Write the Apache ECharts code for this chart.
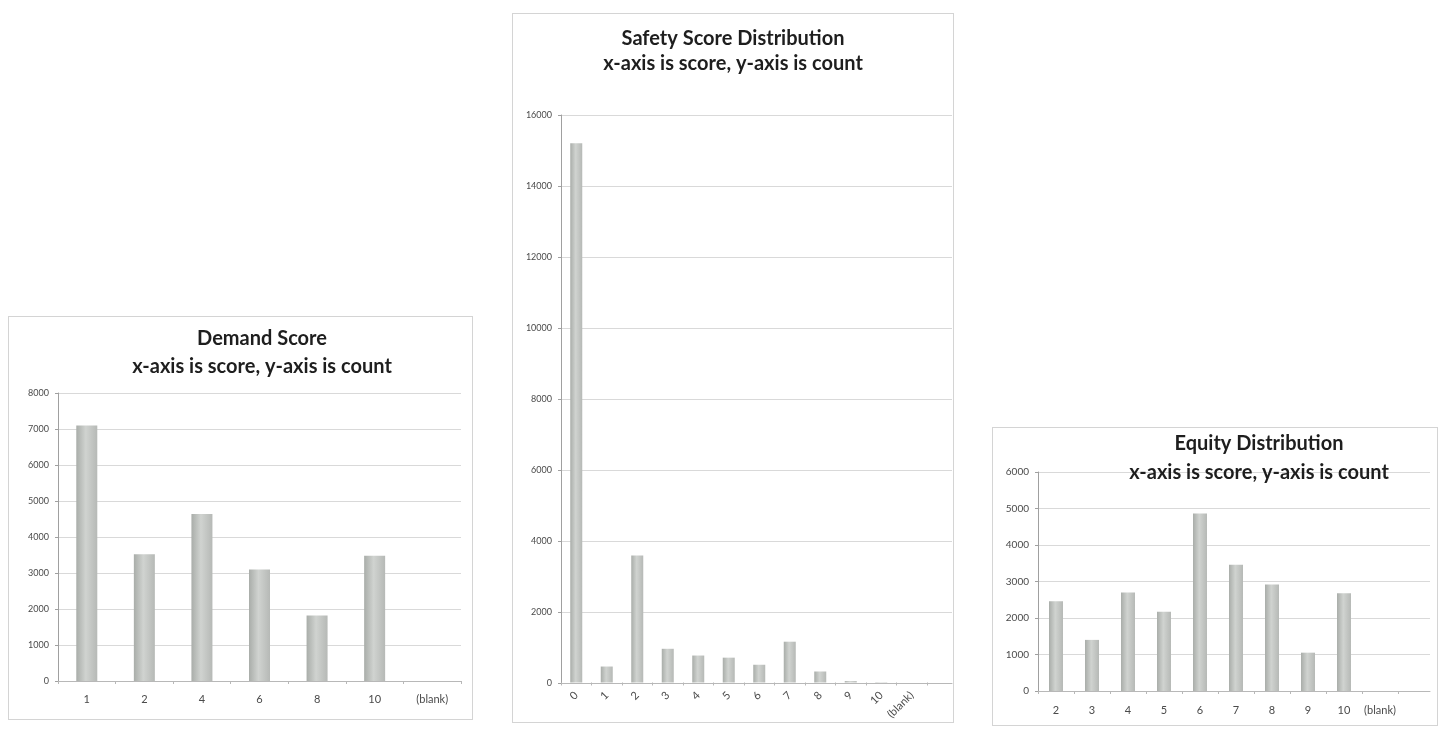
<!DOCTYPE html>
<html>
<head>
<meta charset="utf-8">
<title>Score distributions</title>
<script src="https://cdn.jsdelivr.net/npm/echarts@6/dist/echarts.min.js"></script>
<style>
    html, body { margin: 0; padding: 0; background: #fff; }
    .box {
        position: absolute;
        box-sizing: border-box;
        border: 1px solid #d4d4d4;
        background: #fff;
    }
    #demand { left: 8px; top: 316px; width: 465px; height: 404px; }
    #safety { left: 512px; top: 13px; width: 442px; height: 710px; }
    #equity { left: 992px; top: 427px; width: 446px; height: 299px; }
</style>
</head>
<body>
<div id="demand" class="box"></div>
<div id="safety" class="box"></div>
<div id="equity" class="box"></div>

<script>
// 需求分数
const demandScores = ['1', '2', '4', '6', '8', '10', '(blank)'];
const demandCounts = [7100, 3520, 4640, 3100, 1820, 3480, 0];

// 安全分数
const safetyScores = ['0', '1', '2', '3', '4', '5', '6', '7', '8', '9', '10', '(blank)'];
const safetyCounts = [15200, 450, 3580, 950, 760, 700, 500, 1150, 310, 40, 10, 0];

// 公平分数
const equityScores = ['2', '3', '4', '5', '6', '7', '8', '9', '10', '(blank)'];
const equityCounts = [2460, 1400, 2700, 2170, 4860, 3460, 2920, 1050, 2680, 0];

const subTitle = 'x-axis is score, y-axis is count';

// 柱子的灰色渐变
const barColor = {
    type: 'linear', x: 0, y: 0, x2: 1, y2: 0,
    colorStops: [
        { offset: 0, color: '#a9ada9' },
        { offset: 0.45, color: '#d0d3d0' },
        { offset: 1, color: '#b6b9b6' }
    ]
};

function makeChart(id, cfg) {
    let myChart = echarts.init(document.getElementById(id));
    myChart.setOption({
        animation: false,
        title: {
            text: cfg.title + '\n' + subTitle,
            left: cfg.titleX,
            top: cfg.titleTop,
            padding: 0,
            textAlign: 'center',
            textStyle: {
                fontFamily: 'Lato',
                fontWeight: 'bold',
                fontSize: 20,
                lineHeight: cfg.lineHeight,
                color: '#1e1e1e'
            }
        },
        // 网格线用整个绘图区，柱子用分类区
        grid: [
            { left: cfg.left, right: cfg.right, top: cfg.top, bottom: cfg.bottom },
            { left: cfg.left, right: cfg.catRight, top: cfg.top, bottom: cfg.bottom }
        ],
        xAxis: [
            {
                gridIndex: 0, type: 'value', min: 0, max: 1,
                axisLine: { show: true, lineStyle: { color: '#b8b8b8' } },
                axisTick: { show: false },
                axisLabel: { show: false },
                splitLine: { show: false }
            },
            {
                gridIndex: 1, type: 'category', data: cfg.cats,
                axisLine: { show: false },
                axisTick: { show: true, length: 3, lineStyle: { color: '#b8b8b8' } },
                axisLabel: {
                    color: '#4a4a4a', fontSize: cfg.xFont, fontFamily: 'Lato',
                    margin: cfg.labelMargin, rotate: cfg.rotate, interval: 0
                }
            }
        ],
        yAxis: [
            {
                gridIndex: 0, type: 'value', min: 0, max: cfg.max, interval: cfg.interval,
                axisLine: { show: true, lineStyle: { color: '#a0a0a0' } },
                axisTick: { show: true, length: 3, lineStyle: { color: '#a0a0a0' } },
                axisLabel: {
                    color: '#4a4a4a', fontSize: cfg.yFont, fontFamily: 'Lato', margin: 9,
                    formatter: function (v) { return String(v); }
                },
                splitLine: { lineStyle: { color: '#d9d9d9' } }
            },
            {
                gridIndex: 1, type: 'value', min: 0, max: cfg.max, interval: cfg.interval,
                show: false
            }
        ],
        series: [{
            type: 'bar',
            xAxisIndex: 1,
            yAxisIndex: 1,
            data: cfg.values,
            barWidth: cfg.barWidth,
            itemStyle: { color: barColor }
        }]
    });
    window.addEventListener('resize', function () {
        myChart.resize();
    });
}

makeChart('demand', {
    title: 'Demand Score', cats: demandScores, values: demandCounts,
    titleX: 253, titleTop: 8, lineHeight: 28,
    left: 49, right: 11, catRight: 11, top: 76, bottom: 38,
    max: 8000, interval: 1000, barWidth: 21, yFont: 9, xFont: 11, labelMargin: 13, rotate: 0
});

makeChart('safety', {
    title: 'Safety Score Distribution', cats: safetyScores, values: safetyCounts,
    titleX: 220, titleTop: 12, lineHeight: 25,
    left: 48, right: 1, catRight: 26, top: 101, bottom: 39,
    max: 16000, interval: 2000, barWidth: 12, yFont: 9, xFont: 11, labelMargin: 11, rotate: 45
});

makeChart('equity', {
    title: 'Equity Distribution', cats: equityScores, values: equityCounts,
    titleX: 266, titleTop: 1, lineHeight: 29,
    left: 45, right: 7, catRight: 39, top: 44, bottom: 34,
    max: 6000, interval: 1000, barWidth: 14, yFont: 10, xFont: 11, labelMargin: 14, rotate: 0
});
</script>
</body>
</html>
